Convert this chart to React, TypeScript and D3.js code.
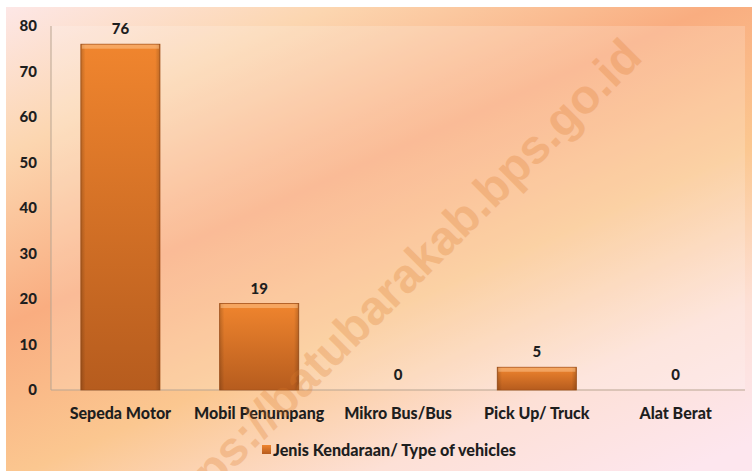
import React from "react";
import * as d3 from "d3";

const categories = ["Sepeda Motor", "Mobil Penumpang", "Mikro Bus/Bus", "Pick Up/ Truck", "Alat Berat"];
const values = [76, 19, 0, 5, 0];
const yTicks = [0, 10, 20, 30, 40, 50, 60, 70, 80];
const legendLabel = "Jenis Kendaraan/ Type of vehicles";
const watermark = "https://batubarakab.bps.go.id";

const W = 752;
const H = 471;
const M = { left: 51, right: 745, top: 26, bottom: 390 };
const FONT = "Lato, 'Open Sans', sans-serif";

export default function App() {
  const x = d3.scaleBand<string>().domain(categories).range([M.left, M.right]).paddingInner(0.43).paddingOuter(0.215);
  const y = d3.scaleLinear().domain([0, 80]).range([M.bottom, M.top]);

  return (
    <svg width={W} height={H} style={{ position: "absolute", left: 0, top: 0 }}>
      <defs>
        <linearGradient id="bg" gradientUnits="userSpaceOnUse" x1={0} y1={0} x2={292} y2={649}>
          <stop offset="0" stopColor="#fde8ea" />
          <stop offset="0.2" stopColor="#fcd6b0" />
          <stop offset="0.42" stopColor="#f9ad80" />
          <stop offset="0.62" stopColor="#fbc790" />
          <stop offset="0.82" stopColor="#fde0d6" />
          <stop offset="1" stopColor="#fde6ee" />
        </linearGradient>
        <linearGradient id="bar" x1={0} y1={0} x2={0} y2={1}>
          <stop offset="0" stopColor="#f0852e" />
          <stop offset="1" stopColor="#b65c1e" />
        </linearGradient>
        <linearGradient id="barSide" x1={0} y1={0} x2={1} y2={0}>
          <stop offset="0" stopColor="#000" stopOpacity={0.18} />
          <stop offset="0.06" stopColor="#000" stopOpacity={0} />
          <stop offset="0.94" stopColor="#000" stopOpacity={0} />
          <stop offset="1" stopColor="#000" stopOpacity={0.18} />
        </linearGradient>
      </defs>
      <rect x={0} y={0} width={W} height={H} fill="#ffffff" />
      <rect x={6} y={7} width={W - 6} height={H - 7} fill="url(#bg)" />
      <rect x={M.left} y={M.top} width={M.right - M.left} height={M.bottom - M.top} fill="#ffffff" opacity={0.18} />
      <line x1={M.left} x2={M.left} y1={M.top} y2={M.bottom} stroke="#b9a592" strokeWidth={1} />
      <line x1={M.left} x2={M.right} y1={M.bottom} y2={M.bottom} stroke="#b9a592" strokeWidth={1} />

      {yTicks.map((t) => (
        <text key={t} x={37} y={y(t)} dy="0.35em" textAnchor="end" fontFamily={FONT} fontWeight={900} fontSize={15} fill="#1e1e1e">
          {t}
        </text>
      ))}

      {categories.map((c, i) => {
        const bx = x(c)!;
        const bw = x.bandwidth();
        const by = y(values[i]);
        const bh = y(0) - by;
        return (
          <g key={c}>
            {bh > 0 && (
              <g>
                <rect x={bx} y={by} width={bw} height={bh} fill="url(#bar)" stroke="#a5531b" strokeWidth={0.8} />
                <rect x={bx} y={by} width={bw} height={bh} fill="url(#barSide)" />
                <rect x={bx + 1} y={by + 0.5} width={bw - 2} height={Math.min(4, bh / 3)} fill="#ffd0a0" opacity={0.45} />
              </g>
            )}
            <text x={bx + bw / 2} y={by - 10} textAnchor="middle" fontFamily={FONT} fontWeight={900} fontSize={15} fill="#1e1e1e">
              {values[i]}
            </text>
            <text x={bx + bw / 2} y={419} textAnchor="middle" fontFamily={FONT} fontWeight={900} fontSize={16} fill="#1e1e1e">
              {c}
            </text>
          </g>
        );
      })}

      <rect x={262} y={445} width={9} height={9} fill="url(#bar)" />
      <text x={273} y={456} fontFamily={FONT} fontWeight={900} fontSize={16} fill="#1e1e1e" textLength={243} lengthAdjust="spacingAndGlyphs">
        {legendLabel}
      </text>

      <text
        x={0}
        y={0}
        transform="translate(395,285) rotate(-45)"
        textAnchor="middle"
        dominantBaseline="central"
        fontFamily="'Liberation Sans', Arial, sans-serif"
        fontWeight={700}
        fontSize={48}
        fill="#dc7a2a"
        opacity={0.26}
      >
        {watermark}
      </text>
    </svg>
  );
}
